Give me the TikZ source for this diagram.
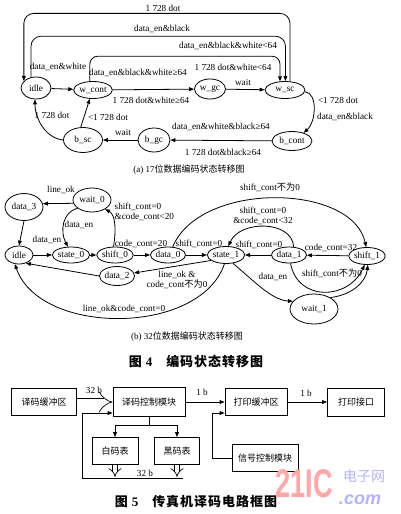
\documentclass[tikz,border=0pt]{standalone}
\usepackage{fontspec}
\setmainfont{Liberation Serif}
\newfontfamily\zh{Noto Sans CJK SC}
\newfontfamily\wmfont{Liberation Sans}
\usetikzlibrary{shapes.geometric,arrows.meta,calc}
\tikzset{
  st/.style={ellipse, draw, line width=0.8pt, inner sep=0pt, font=\fontsize{9.3}{10}\selectfont},
  lab/.style={font=\fontsize{9.2}{10.5}\selectfont, inner sep=0.5pt, align=center},
  arr/.style={line width=0.8pt, -{Triangle[length=5pt,width=3.8pt]}},
  ln/.style={line width=0.8pt},
  box/.style={draw, line width=0.8pt, inner sep=0pt, font=\zh\fontsize{9}{10}\selectfont},
  dbl/.style={double, double distance=#1, line width=0.7pt, -{Implies}},
  capt/.style={font=\fontsize{9}{10}\selectfont, inner sep=0pt},
  ttl/.style={font=\fontsize{13}{14}\selectfont\bfseries, inner sep=0pt},
}
\begin{document}
\begin{tikzpicture}[x=1pt,y=-1pt]
\fill[white] (0,0) rectangle (400,514);
\useasboundingbox (0,0) rectangle (400,514);

% ---------------- (a) ----------------
\node[st, minimum width=30pt, minimum height=22pt] (idle) at (36,88) {idle};
\node[st, minimum width=38pt, minimum height=17pt] (wcont) at (93,90) {w\_cont};
\node[st, minimum width=31pt, minimum height=20pt] (wgc) at (210,89) {w\_gc};
\node[st, minimum width=40pt, minimum height=17pt] (wsc) at (285,90) {w\_sc};
\node[st, minimum width=40pt, minimum height=19pt] (bcont) at (292,141) {b\_cont};
\node[st, minimum width=32pt, minimum height=24pt] (bgc) at (154,140) {b\_gc};
\node[st, minimum width=39pt, minimum height=25pt] (bsc) at (83,140) {b\_sc};

\draw[arr] (idle) -- (wcont);
\draw[arr] (wcont) -- (wgc);
\draw[arr] (wgc) -- (wsc);
\draw[arr, rounded corners=8pt] (wcont.110) -- ++(0,-25) -| (wsc.120);
\draw[arr, rounded corners=10pt] (idle.115) -- ++(0,-41) -| (wsc.87);
\draw[arr, rounded corners=10pt] (wsc.60) -- ++(0,-68) -| (idle.150);
\draw[arr] (wsc.-5) .. controls (318,93) and (316,122) .. (bcont.35);
\draw[arr] (bcont) -- (bgc);
\draw[arr] (bgc) -- (bsc);
\draw[arr] (bsc.180) .. controls (45,138) and (35,118) .. (idle.265);
\draw[arr] (bsc.100) -- (wcont.250);

\node[lab] (la1) at (58,67) {data\_en\&white};
\node[lab] (la2) at (138,73) {data\_en\&black\&white≥64};
\node[lab] (la3) at (151,100) {1 728 dot\&white≥64};
\node[lab] (la4) at (243,82) {wait};
\node[lab] (la5) at (228,46) {data\_en\&black\&white<64};
\node[lab] (la6) at (233,67) {1 728 dot\&white<64};
\node[lab] (la7) at (162,29) {data\_en\&black};
\node[lab] (la8) at (163,8) {1 728 dot};
\node[lab] (la9) at (338,100) {<1 728 dot};
\node[lab] (la10) at (345,117) {data\_en\&black};
\node[lab] (la11) at (221,127) {data\_en\&white\&black≥64};
\node[lab] (la12) at (223,152) {1 728 dot\&black≥64};
\node[lab] (la13) at (123,132) {wait};
\node[lab] (la14) at (52,115) {1 728 dot};
\node[lab] (la15) at (108,117) {<1 728 dot};
\node[capt] (capa) at (189,170) {(a) 17{\zh 位数据编码状态转移图}};

% ---------------- (b) ----------------
\node[st, minimum width=38pt, minimum height=27pt] (data3) at (24,207) {data\_3};
\node[st, minimum width=38pt, minimum height=24pt] (wait0) at (92,200) {wait\_0};
\node[st, minimum width=28pt, minimum height=18pt] (idleb) at (19,255) {idle};
\node[st, minimum width=36pt, minimum height=16pt] (state0) at (71,255) {state\_0};
\node[st, minimum width=34pt, minimum height=16pt] (shift0) at (115,255) {shift\_0};
\node[st, minimum width=30pt, minimum height=16pt] (data0) at (168,255) {data\_0};
\node[st, minimum width=36pt, minimum height=17pt] (state1) at (226,255) {state\_1};
\node[st, minimum width=32pt, minimum height=16pt] (data1) at (289,255) {data\_1};
\node[st, minimum width=34pt, minimum height=17pt] (shift1) at (367,256) {shift\_1};
\node[st, minimum width=34pt, minimum height=19pt] (data2) at (117,276) {data\_2};
\node[st, minimum width=48pt, minimum height=30pt] (wait1) at (314,309) {wait\_1};

\draw[arr] (wait0.190) -- (data3.10);
\draw[arr] (data3.south) -- (idleb.north);
\draw[arr] (wait0.210) .. controls (62,212) and (60,232) .. (state0.110);
\draw[arr] (idleb) -- (state0);
\draw[arr] (state0) -- (shift0);
\draw[arr] (shift0.100) .. controls (116,232) and (116,215) .. (wait0.-35);
\draw[arr] (shift0) -- (data0);
\draw[arr] (data0) -- (state1);
\draw[arr] (data0.60) .. controls (200,181) and (352,183) .. (shift1.95);
\draw[arr] (data1) -- (state1);
\draw[arr] (data1.60) .. controls (292,220) and (240,220) .. (state1.75);
\draw[arr] (shift1) -- (data1);
\draw[arr] (data1.-80) .. controls (298,302) and (348,300) .. (shift1.-105);
\draw[arr] (state1.-50) .. controls (255,282) and (272,300) .. (wait1.160);
\draw[arr] (wait1.35) .. controls (352,295) and (366,282) .. (shift1.-85);
\draw[arr] (state1.200) -- (data2.10);
\draw[arr] (data2.180) -- (idleb.-50);
\draw[arr] (state1.-100) .. controls (200,336) and (40,336) .. (idleb.-115);

\node[lab] (lb1) at (61,190) {line\_ok};
\node[lab] (lb2) at (79,225) {data\_en};
\node[lab] (lb3) at (47,240) {data\_en};
\node[lab, anchor=west, align=left] (lb4) at (114,212) {shift\_cont=0\\\&code\_cont<20};
\node[lab] (lb5) at (141,244) {code\_cont=20};
\node[lab] (lb6) at (199,244) {shift\_cont=0};
\node[lab] (lb7) at (270,187) {shift\_cont{\zh 不为}0};
\node[lab] (lb8) at (259,245) {shift\_cont=0};
\node[lab] (lb9) at (263,216) {shift\_cont=0\\\&code\_cont<32};
\node[lab] (lb10) at (331,248) {code\_cont=32};
\node[lab] (lb11) at (332,273) {shift\_cont{\zh 不为}0};
\node[lab] (lb12) at (273,277) {data\_en};
\node[lab] (lb13) at (177,280) {line\_ok \&\\code\_cont{\zh 不为}0};
\node[lab] (lb14) at (124,309) {line\_ok\&code\_cont=0};
\node[capt] (capb) at (187,337) {(b) 32{\zh 位数据编码状态转移图}};

\node[ttl] (fig4) at (196,362) {{\zh 图}\hspace{4pt}4\hspace{14pt}{\zh 编\hspace{1pt}码\hspace{1pt}状\hspace{1pt}态\hspace{1pt}转\hspace{1pt}移\hspace{1pt}图}};

% ---------------- Fig 5 ----------------
\node[box, minimum width=65pt, minimum height=27pt] (buf) at (44,402) {译码缓冲区};
\node[box, minimum width=72pt, minimum height=29pt] (ctl) at (149,402) {译码控制模块};
\node[box, minimum width=62pt, minimum height=27pt] (pbuf) at (256,402) {打印缓冲区};
\node[box, minimum width=57pt, minimum height=28pt] (jack) at (356,402) {打印接口};
\node[box, minimum width=46pt, minimum height=27pt] (white) at (115,451) {白码表};
\node[box, minimum width=45pt, minimum height=27pt] (black) at (177,451) {黑码表};
\node[box, minimum width=66pt, minimum height=27pt] (sig) at (265,458) {信号控制模块};

\draw[dbl=7pt] (buf.east) -- (ctl.west);
\draw[arr] (ctl) -- (pbuf);
\draw[arr] (pbuf) -- (jack);
\draw[arr] (sig.west) -- ++(-19,0) |- ([yshift=-11pt]pbuf.west);
\draw[arr] (ctl.south) -- ++(0,8) -| (white.north);
\draw[arr] (ctl.south) -- ++(0,8) -| (black.north);
\draw[dbl=4pt] (white.south) -- ++(0,12);
\draw[dbl=4pt] (black.south) -- ++(0,12);
\coordinate (fbR) at (183,478);
\coordinate (fbL) at (82,478);
\draw[arr] (fbR) -- (fbL) |- ([yshift=-11pt]ctl.west);

\node[lab] (lc1) at (94,390) {32 b};
\node[lab] (lc2) at (202,392) {1 b};
\node[lab] (lc3) at (306,393) {1 b};
\node[lab] (lc4) at (145,473) {32 b};

\node[ttl] (fig5) at (196,502) {{\zh 图}\hspace{4pt}5\hspace{14pt}{\zh 传\hspace{1pt}真\hspace{1pt}机\hspace{1pt}译\hspace{1pt}码\hspace{1pt}电\hspace{1pt}路\hspace{1pt}框\hspace{1pt}图}};

% watermark
\node[inner sep=0pt, text=red!35, font=\wmfont\bfseries\fontsize{40}{40}\selectfont] (wm1) at (304,484) {\scalebox{0.68}[1]{21IC}};
\node[inner sep=0pt, text=blue!30, font=\zh\fontsize{14}{14}\selectfont] (wm2) at (364,476) {电子网};
\node[inner sep=0pt, text=blue!30, font=\wmfont\bfseries\itshape\fontsize{18}{18}\selectfont] (wm3) at (360,500) {.com};
\end{tikzpicture}
\end{document}
